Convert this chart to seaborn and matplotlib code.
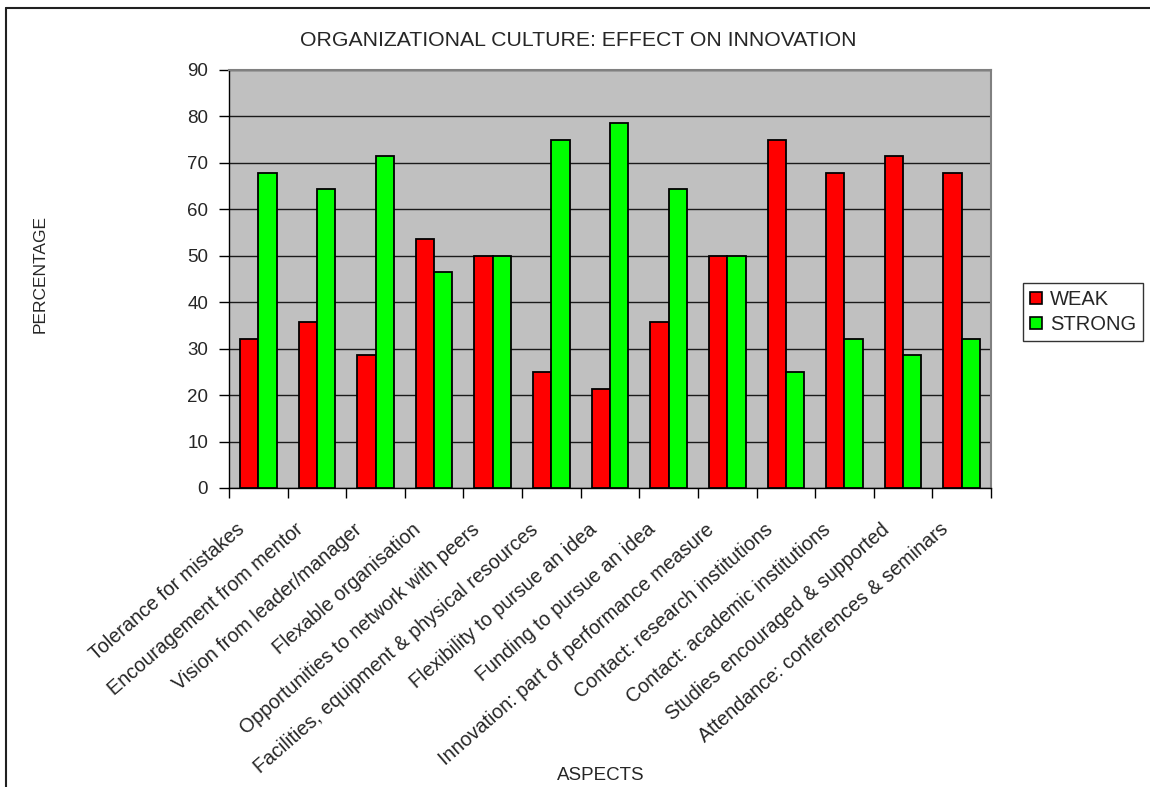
import matplotlib
matplotlib.use("Agg")
import matplotlib.pyplot as plt
import matplotlib.transforms as mtransforms
from matplotlib.lines import Line2D
import seaborn as sns
import pandas as pd
import numpy as np

# Survey results: share of respondents rating each aspect weak / strong
aspects = [
    "Tolerance for mistakes",
    "Encouragement from mentor",
    "Vision from leader/manager",
    "Flexable organisation",
    "Opportunities to network with peers",
    "Facilities, equipment & physical resources",
    "Flexibility to pursue an idea",
    "Funding to pursue an idea",
    "Innovation: part of performance measure",
    "Contact: research institutions",
    "Contact: academic institutions",
    "Studies encouraged & supported",
    "Attendance: conferences & seminars",
]
weak = [32.1, 35.7, 28.6, 53.6, 50.0, 25.0, 21.4, 35.7, 50.0, 75.0, 67.9, 71.4, 67.9]
strong = [67.9, 64.3, 71.4, 46.4, 50.0, 75.0, 78.6, 64.3, 50.0, 25.0, 32.1, 28.6, 32.1]
series = ["WEAK", "STRONG"]
yticks = [0, 10, 20, 30, 40, 50, 60, 70, 80, 90]

df = pd.DataFrame({
    "aspect": aspects * 2,
    "rating": [series[0]] * len(aspects) + [series[1]] * len(aspects),
    "pct": weak + strong,
})

sns.set_theme(style="white")
plt.rcParams["font.family"] = ["Liberation Sans", "DejaVu Sans"]

W, H = 1150, 787
fig = plt.figure(figsize=(W / 100, H / 100), dpi=100)
ax = fig.add_axes([229 / W, 1 - 488 / H, (991 - 229) / W, (488 - 70) / H])
ax.set_facecolor("#C0C0C0")

sns.barplot(
    data=df, x="aspect", y="pct", hue="rating", order=aspects,
    hue_order=series, palette={"WEAK": "#FF0000", "STRONG": "#00FF00"},
    width=0.625, gap=0, edgecolor="black", linewidth=1.3,
    saturation=1, errorbar=None, ax=ax, zorder=3,
)

ax.set_ylim(0, 90)
ax.set_xlim(-0.5, len(aspects) - 0.5)
ax.set_yticks(yticks)
ax.set_axisbelow(True)
ax.yaxis.grid(True, color="#1a1a1a", linewidth=1.0)
ax.xaxis.grid(False)

for side in ("left", "bottom"):
    ax.spines[side].set_color("black")
    ax.spines[side].set_linewidth(1.0)
for side in ("top", "right"):
    ax.spines[side].set_color("#808080")
    ax.spines[side].set_linewidth(1.5)

ax.tick_params(axis="y", which="major", direction="out", length=7, width=1,
               color="black", labelsize=13.5, pad=8, left=True)
# category boundaries carry the tick marks; labels sit on the centres
ax.set_xticks(np.arange(-0.5, len(aspects), 1.0), minor=True)
ax.tick_params(axis="x", which="minor", direction="out", length=7, width=1,
               color="black", bottom=True)
ax.tick_params(axis="x", which="major", length=0, labelsize=14.2, pad=0)
ax.set_xticks(range(len(aspects)))
ax.set_xticklabels(aspects, rotation=41, ha="right", va="center",
                   rotation_mode="anchor")
offset = mtransforms.ScaledTranslation(-16 / 100, -39 / 100, fig.dpi_scale_trans)
for lab in ax.get_xticklabels():
    lab.set_transform(lab.get_transform() + offset)

ax.set_xlabel("")
ax.set_ylabel("")
fig.text(40 / W, 1 - 274 / H, "PERCENTAGE", rotation=90, ha="center",
         va="center", fontsize=12.5)
fig.text(601 / W, 1 - 775 / H, "ASPECTS", ha="center", va="center", fontsize=13.5)
fig.text(578 / W, 1 - 40 / H, "ORGANIZATIONAL CULTURE: EFFECT ON INNOVATION",
         ha="center", va="center", fontsize=15.3)

# legend to the right of the plot area
ax.legend_.remove()
handles = [
    plt.Rectangle((0, 0), 1, 1, facecolor="#FF0000", edgecolor="black", linewidth=1.2),
    plt.Rectangle((0, 0), 1, 1, facecolor="#00FF00", edgecolor="black", linewidth=1.2),
]
leg = fig.legend(handles, series, loc="upper left",
                 bbox_to_anchor=(1023 / W, 1 - 283 / H), fontsize=14.5,
                 frameon=True, fancybox=False, handlelength=0.6,
                 handleheight=0.6, handletextpad=0.4, borderpad=0.35,
                 labelspacing=0.3, borderaxespad=0)
leg.get_frame().set_edgecolor("black")
leg.get_frame().set_linewidth(1.0)

# chart frame (top and left edges)
fig.add_artist(Line2D([6 / W, 1.0], [1 - 7.5 / H, 1 - 7.5 / H],
                      transform=fig.transFigure, color="#202020", linewidth=1.5))
fig.add_artist(Line2D([6 / W, 6 / W], [0.0, 1 - 7.5 / H],
                      transform=fig.transFigure, color="#202020", linewidth=1.5))

fig.savefig("out.png", dpi=100, facecolor="white")
